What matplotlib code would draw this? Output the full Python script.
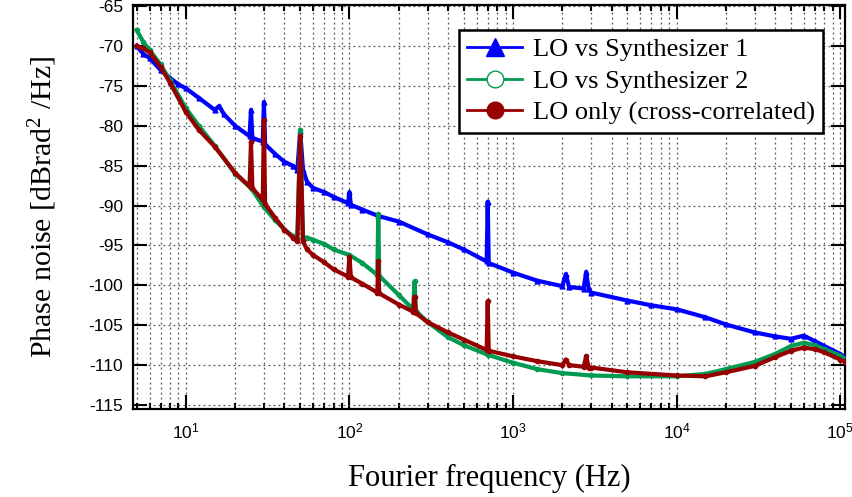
import matplotlib
matplotlib.use("Agg")
import matplotlib.pyplot as plt
from matplotlib.ticker import LogLocator, MultipleLocator, NullFormatter
from matplotlib.lines import Line2D

plt.rcParams['axes.unicode_minus'] = False

# ---------------- data ----------------
synth1_freq = [5, 5.5, 6, 7, 8, 9, 10, 12, 15, 16, 17, 20, 24.5, 25, 25.5, 29.5, 30, 30.5,
               35, 40, 45, 48, 50, 52, 55, 60, 70, 80, 98, 100, 102, 120, 150, 200, 300,
               400, 500, 690, 700, 710, 1000, 1400, 2000, 2100, 2200, 2700, 2800, 2900,
               3000, 5000, 7000, 10000, 15000, 20000, 30000, 40000, 50000, 60000, 70000,
               80000, 100000, 107000]
synth1_pn = [-70, -71, -71.5, -73, -74, -74.8, -75.3, -76.5, -78, -77.5, -78.5, -80,
             -81.3, -78, -81.5, -82, -77, -82.3, -83.5, -84.5, -85, -85.5, -80.7, -85.5,
             -87, -87.8, -88.3, -88.9, -89.7, -88.3, -89.9, -90.5, -91.3, -92, -93.6,
             -94.6, -95.5, -97.0, -89.5, -97.2, -98.4, -99.4, -100.1, -98.6, -100.2,
             -100.4, -98.3, -100.5, -100.9, -101.9, -102.5, -103, -104, -104.9, -105.9,
             -106.4, -106.7, -106.3, -107, -107.6, -108.6, -109]

synth2_freq = [5, 5.5, 6, 7, 8, 10, 12, 15, 20, 25, 30, 35, 40, 45, 48, 50, 52, 55, 60,
               70, 80, 100, 120, 148, 150, 152, 200, 245, 250, 255, 300, 400, 500, 700,
               1000, 1400, 2000, 3000, 5000, 10000, 15000, 20000, 30000, 40000, 50000,
               60000, 70000, 80000, 100000, 107000]
synth2_pn = [-68, -69.5, -70.5, -72.3, -74.3, -77.8, -80, -82.5, -86, -87.8, -90.2, -91.8,
             -93, -93.8, -94.3, -80.5, -94, -94, -94.3, -94.8, -95.5, -96.2, -97.2, -98.7,
             -91.1, -98.8, -101.2, -103, -99.5, -103.2, -104.6, -106.5, -107.5, -108.7,
             -109.7, -110.5, -111, -111.3, -111.4, -111.4, -111.1, -110.5, -109.6, -108.6,
             -107.6, -107.2, -107.5, -108, -108.8, -109.2]

lo_freq = [5, 5.5, 6, 7, 8, 10, 12, 15, 20, 24.5, 25, 25.5, 29.5, 30, 30.5, 35, 40, 45,
           48, 50, 52, 55, 60, 70, 80, 98, 100, 102, 120, 148, 150, 152, 200, 245, 250,
           255, 300, 400, 500, 690, 700, 710, 1000, 1400, 2000, 2100, 2200, 2700, 2800,
           2900, 3000, 5000, 10000, 15000, 20000, 30000, 40000, 50000, 60000, 70000,
           80000, 100000, 107000]
lo_pn = [-70, -70.3, -70.8, -72.6, -74.6, -78.3, -80.5, -82.6, -85.9, -87.6, -82, -87.8,
         -89.3, -79.3, -89.8, -91.5, -93, -94, -94.5, -81.3, -94.5, -95.5, -96.2, -97.1,
         -98, -98.9, -96.4, -99, -99.8, -100.9, -97, -101, -102.4, -103.3, -101.4, -103.5,
         -104.6, -105.9, -106.8, -108.1, -102, -108.2, -108.9, -109.5, -110, -109.3, -110,
         -110.2, -108.9, -110.3, -110.3, -110.9, -111.3, -111.4, -110.9, -110.1, -109,
         -108.2, -107.8, -108, -108.4, -109.3, -109.6]

labels = ["LO vs Synthesizer 1", "LO vs Synthesizer 2", "LO only (cross-correlated)"]
colors = ["#0000FF", "#009B50", "#960000"]
y_ticks = list(range(-115, -64, 5))

# ---------------- figure ----------------
fig = plt.figure(figsize=(8.53, 4.97), dpi=100)
ax = fig.add_axes([133 / 853, 1 - 409 / 497, 712 / 853, 404 / 497])

ax.plot(synth1_freq, synth1_pn, color=colors[0], lw=3, marker='^', ms=3.5, zorder=3)
ax.plot(synth2_freq, synth2_pn, color=colors[1], lw=3, marker='o', ms=3, mfc='none',
        zorder=4)
ax.plot(lo_freq, lo_pn, color=colors[2], lw=3, marker='o', ms=3, zorder=5)

ax.set_xscale('log')
ax.set_xlim(4.75, 1.07e5)
ax.set_ylim(-115.5, -64.85)
ax.set_yticks(y_ticks)
ax.yaxis.set_major_formatter(plt.FuncFormatter(lambda v, p: f"{int(v)}"))
ax.xaxis.set_major_locator(LogLocator(base=10, numticks=10))
ax.xaxis.set_minor_locator(LogLocator(base=10, subs=range(2, 10), numticks=20))
ax.xaxis.set_minor_formatter(NullFormatter())

ax.grid(which='major', axis='both', color='#555555', ls=(0, (1.5, 2.5)), lw=0.9)
ax.grid(which='minor', axis='x', color='#555555', ls=(0, (1.5, 2.5)), lw=0.9)

ax.tick_params(which='both', direction='in', top=True, right=True, width=1.5,
               labelsize=12.5, colors='black')
ax.tick_params(which='major', length=10)
ax.tick_params(which='minor', length=4.5)
for lab in ax.get_xticklabels() + ax.get_yticklabels():
    lab.set_fontfamily('Liberation Sans')
ax.tick_params(axis='x', pad=9)
ax.tick_params(axis='y', pad=7)
for s in ax.spines.values():
    s.set_linewidth(1.6)

ax.set_xlabel("Fourier frequency (Hz)", fontfamily='Liberation Serif', fontsize=22,
              labelpad=16)
ax.set_ylabel(r"Phase noise [dBrad$\mathdefault{^2}$ /Hz]", fontfamily='Liberation Serif',
              fontsize=21.5, labelpad=21)

handles = [
    Line2D([], [], color=colors[0], lw=2, marker='^', ms=13, mfc=colors[0]),
    Line2D([], [], color=colors[1], lw=2, marker='o', ms=12, mfc='white'),
    Line2D([], [], color=colors[2], lw=2, marker='o', ms=12, mfc=colors[2]),
]
leg = ax.legend(handles, labels, loc='upper right', bbox_to_anchor=(0.969, 0.938),
                prop={'family': 'Liberation Serif', 'size': 19}, frameon=True,
                fancybox=False, framealpha=1, edgecolor='black', handlelength=2.1,
                borderpad=0.3, labelspacing=0.3, handletextpad=0.4, borderaxespad=0)
leg.get_frame().set_linewidth(1.8)
leg.set_zorder(10)

fig.savefig("out.png", dpi=100)
